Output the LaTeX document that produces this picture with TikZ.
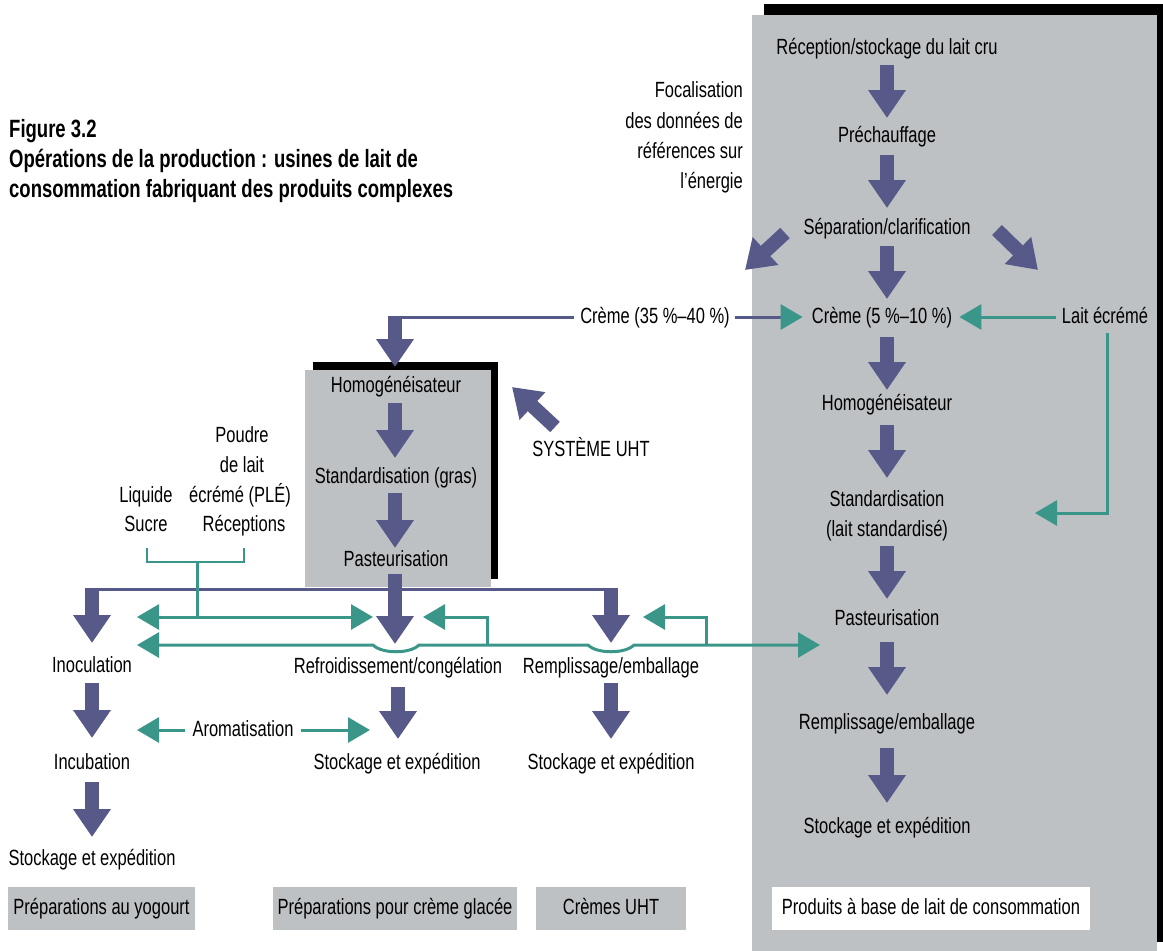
\documentclass[tikz,border=0pt]{standalone}
\usepackage{fontspec}
\setmainfont{Liberation Sans}[FakeStretch=0.75]
\newfontfamily\titlefont{Liberation Sans}[FakeStretch=0.74]
\usetikzlibrary{arrows.meta,calc}
\definecolor{tblue}{RGB}{87,89,136}
\definecolor{tgreen}{RGB}{58,150,136}
\definecolor{tgray}{RGB}{190,193,196}
\begin{document}
\begin{tikzpicture}[x=1pt,y=-1pt,
  txt/.style={inner sep=0pt, anchor=base, text height=16pt, text depth=4pt, font=\fontsize{22}{26}\selectfont},
  ttl/.style={inner sep=0pt, anchor=base west, font=\titlefont\bfseries\fontsize{25}{30}\selectfont},
  lbox/.style={fill=tgray, inner sep=0pt, minimum height=43pt, text height=16pt, text depth=4pt, font=\fontsize{22}{26}\selectfont},
  bigarrow/.style={draw=tblue, line width=14pt, -{Triangle[length=28pt,width=36pt]}},
  bline/.style={draw=tblue, line width=3pt},
  gline/.style={draw=tgreen, line width=3pt},
  gtip/.style={-{Triangle[length=22pt,width=25pt]}},
  gtiptwo/.style={{Triangle[length=22pt,width=25pt]}-{Triangle[length=22pt,width=25pt]}}
]
\useasboundingbox (0,0) rectangle (1163,951);
% panels
\fill[black] (764,4) rectangle (1163,942);
\fill[tgray] (752,15) rectangle (1157,951);
\fill[black] (313,362) rectangle (498,579);
\fill[tgray] (305,370) rectangle (491,587);

% title
\node[ttl] (t1) at (9,137) {Figure 3.2};
\node[ttl] (t2) at (9,167) {Opérations de la production : usines de lait de};
\node[ttl] (t3) at (9,197) {consommation fabriquant des produits complexes};

% right column
\node[txt] (rec) at (887,54) {Réception/stockage du lait cru};
\node[txt] (pre) at (887,142) {Préchauffage};
\node[txt] (sep) at (887,234) {Séparation/clarification};
\node[txt] (cr5) at (882,323) {Crème (5~\%–10~\%)};
\node[txt] (cr35) at (655,323) {Crème (35~\%–40~\%)};
\node[txt] (lait) at (1105,323) {Lait écrémé};
\node[txt] (homR) at (887,410) {Homogénéisateur};
\node[txt] (std1) at (887,506) {Standardisation};
\node[txt] (std2) at (887,536) {(lait standardisé)};
\node[txt] (pasR) at (887,625) {Pasteurisation};
\node[txt] (rempR) at (887,729) {Remplissage/emballage};
\node[txt] (stoR) at (887,833) {Stockage et expédition};

\node[txt, anchor=base east] (foc1) at (743,97) {Focalisation};
\node[txt, anchor=base east] (foc2) at (743,128) {des données de};
\node[txt, anchor=base east] (foc3) at (743,158) {références sur};
\node[txt, anchor=base east] (foc4) at (743,188) {l’énergie};

% middle panel
\node[txt] (homM) at (396,392) {Homogénéisateur};
\node[txt] (stdM) at (396,483) {Standardisation (gras)};
\node[txt] (pasM) at (396,566) {Pasteurisation};
\node[txt] (uht) at (591,456) {SYSTÈME UHT};

% inputs
\node[txt] (liq) at (146,502) {Liquide};
\node[txt] (suc) at (146,531) {Sucre};
\node[txt] (pd1) at (242,442) {Poudre};
\node[txt] (pd2) at (242,472) {de lait};
\node[txt] (pd3) at (240,502) {écrémé (PLÉ)};
\node[txt] (pd4) at (244,531) {Réceptions};

% lower row
\node[txt] (inoc) at (92,672) {Inoculation};
\node[txt] (refr) at (398,673) {Refroidissement/congélation};
\node[txt] (rempM) at (611,673) {Remplissage/emballage};
\node[txt] (incu) at (92,769) {Incubation};
\node[txt] (stoM) at (397,769) {Stockage et expédition};
\node[txt] (stoM2) at (611,769) {Stockage et expédition};
\node[txt] (arom) at (243,736) {Aromatisation};
\node[txt] (stoL) at (92,865) {Stockage et expédition};

% bottom labels
\node[lbox, minimum width=187pt] (b1) at (101.5,908.5) {Préparations au yogourt};
\node[lbox, minimum width=244pt] (b2) at (395,908.5) {Préparations pour crème glacée};
\node[lbox, minimum width=150pt] (b3) at (611,908.5) {Crèmes UHT};
\node[lbox, fill=white, minimum width=318pt] (b4) at (931,908.5) {Produits à base de lait de consommation};

% right column arrows
\draw[bigarrow] ($(rec.base)+(0,11)$) -- ($(pre.base)+(0,-24)$);
\draw[bigarrow] ($(pre.base)+(0,13)$) -- ($(sep.base)+(0,-26)$);
\draw[bigarrow] ($(sep.base)+(0,12)$) -- ($(cr5.base)+(5,-24)$);
\draw[bigarrow] ($(cr5.base)+(5,14)$) -- ($(homR.base)+(0,-20)$);
\draw[bigarrow] ($(homR.base)+(0,15)$) -- ($(std1.base)+(0,-28)$);
\draw[bigarrow] ($(std2.base)+(0,10)$) -- ($(pasR.base)+(0,-26)$);
\draw[bigarrow] ($(pasR.base)+(0,17)$) -- ($(rempR.base)+(0,-34)$);
\draw[bigarrow] ($(rempR.base)+(0,19)$) -- ($(stoR.base)+(0,-30)$);

% diagonal arrows
\coordinate (dLs) at (785,233); \coordinate (dLt) at (745,270);
\coordinate (dRs) at (997,230); \coordinate (dRt) at (1038,270);
\draw[bigarrow] (dLs) -- (dLt);
\draw[bigarrow] (dRs) -- (dRt);
\coordinate (uTs) at (555,427); \coordinate (uTt) at (512,387);
\draw[bigarrow] (uTs) -- (uTt);

% creme lines
\coordinate (c35) at (395,317);
\draw[bline] ([xshift=-6pt]cr35.west) -- (c35);
\draw[bigarrow] ([yshift=1.5pt]c35) -- ($(homM.base)+(-1,-25)$);
\draw[bline, -{Triangle[length=22pt,width=25pt,color=tgreen]}] ([xshift=5pt]cr35.east) -- ([xshift=-9pt]cr5.west);
\draw[gline, gtip] ([xshift=-6pt]lait.west) -- ([xshift=7pt]cr5.east);
\coordinate (stdin) at (1035,513);
\draw[gline, gtip] ($(lait.south)+(2,6)$) |- (stdin);

% middle panel arrows
\draw[bigarrow] ($(homM.base)+(-1,11)$) -- ($(stdM.base)+(-1,-25)$);
\draw[bigarrow] ($(stdM.base)+(-1,10)$) -- ($(pasM.base)+(-1,-18)$);

% bus
\coordinate (busL) at (92,589);
\coordinate (busR) at (611,589);
\draw[bline] (busL) -- (busR);
\draw[bigarrow] ([yshift=1.5pt]busL) -- ($(inoc.base)+(0,-29)$);
\draw[bigarrow] ([yshift=1.5pt]busR) -- ($(rempM.base)+(0,-30)$);
\draw[bigarrow] ($(pasM.base)+(-1,8)$) -- ($(refr.base)+(-3,-29)$);

% green network
\coordinate (bL) at (147,548); \coordinate (bR) at (244,548);
\coordinate (bM) at (197,562); \coordinate (gJ) at (197,617);
\draw[gline, line width=2.5pt] (bL) |- (bM) -| (bR);
\draw[gline] (bM) -- (gJ);
\coordinate (g1L) at (137,617); \coordinate (g1R) at (373,617);
\draw[gline, gtiptwo] (g1L) -- (g1R);
\coordinate (g2L) at (137,645); \coordinate (g2R) at (820,645);
\draw[gline, gtiptwo] (g2L) -- (373,645) .. controls (382,654) and (410,654) .. (419,645) -- (588,645) .. controls (597,654) and (625,654) .. (634,645) -- (g2R);
\coordinate (g3s) at (487,645); \coordinate (g3t) at (423,617);
\draw[gline, gtip] (g3s) |- (g3t);
\coordinate (g4s) at (706,645); \coordinate (g4t) at (643,617);
\draw[gline, gtip] (g4s) |- (g4t);

% lower arrows
\draw[bigarrow] ($(inoc.base)+(0,11)$) -- ($(incu.base)+(0,-31)$);
\draw[bigarrow] ($(refr.base)+(0,14)$) -- ($(stoM.base)+(1,-30)$);
\draw[bigarrow] ($(rempM.base)+(0,10)$) -- ($(stoM2.base)+(0,-30)$);
\draw[bigarrow] ($(incu.base)+(0,13)$) -- ($(stoL.base)+(0,-28)$);
\coordinate (aL) at (137,730); \coordinate (aR) at (370,730);
\draw[gline, gtip] ([xshift=-7pt]arom.west) -- (aL);
\draw[gline, gtip] ([xshift=7pt]arom.east) -- (aR);
\end{tikzpicture}
\end{document}
